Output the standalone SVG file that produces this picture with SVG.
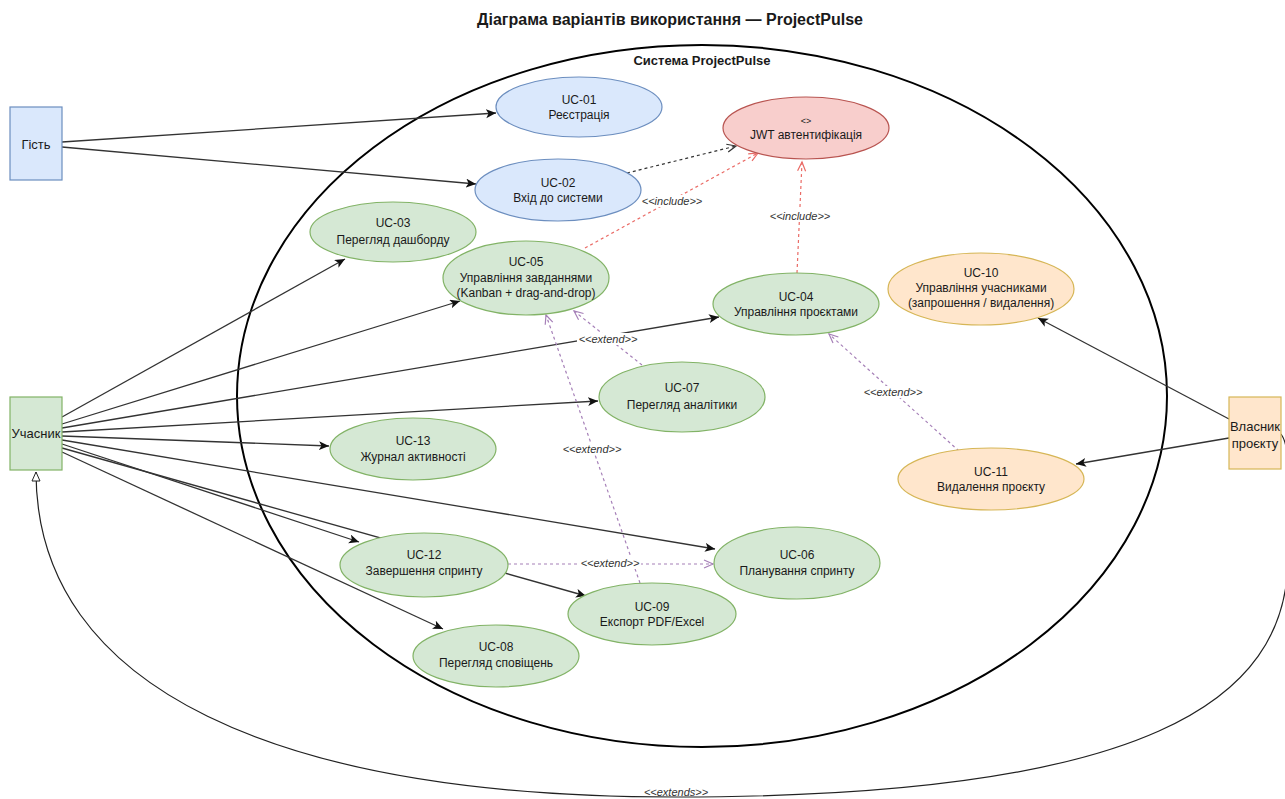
<svg xmlns="http://www.w3.org/2000/svg" width="1285" height="799" viewBox="0 0 1285 799">
  <style>
    text { font-family: "Liberation Sans", Arial, sans-serif; fill: #1a1a1a; text-anchor: middle; }
    .title { font-size: 16px; font-weight: bold; }
    .sys { font-size: 13px; font-weight: bold; }
    .lbl { font-size: 12px; }
    .actor { font-size: 13px; }
    .small { font-size: 9px; }
    .edge-lbl { font-size: 11px; font-style: italic; fill: #333; }
    .lbl-bg { fill: #ffffff; }
    .assoc { fill: none; stroke: #333; stroke-width: 1.3; marker-end: url(#arrow); }
    .inc-black { fill: none; stroke: #333; stroke-width: 1.2; stroke-dasharray: 3 3; marker-end: url(#open-black); }
    .inc-red { fill: none; stroke: #ea6b66; stroke-width: 1.2; stroke-dasharray: 3 3; marker-end: url(#open-red); }
    .ext { fill: none; stroke: #a680b8; stroke-width: 1.2; stroke-dasharray: 3 3; marker-end: url(#open-purple); }
    .gen { fill: none; stroke: #222; stroke-width: 1.2; marker-end: url(#hollow); }
    .uc-blue { fill: #dae8fc; stroke: #6c8ebf; stroke-width: 1.2; }
    .uc-green { fill: #d5e8d4; stroke: #82b366; stroke-width: 1.2; }
    .uc-orange { fill: #ffe6cc; stroke: #d6b656; stroke-width: 1.2; }
    .uc-red { fill: #f8cecc; stroke: #b85450; stroke-width: 1.2; }
  </style>
  <defs>
    <marker id="arrow" markerUnits="userSpaceOnUse" markerWidth="12" markerHeight="10" refX="10" refY="4.5" orient="auto">
      <path d="M0,0 L10,4.5 L0,9 L2.5,4.5 z" fill="#111"/>
    </marker>
    <marker id="open-black" markerUnits="userSpaceOnUse" markerWidth="12" markerHeight="12" refX="10" refY="5" orient="auto">
      <path d="M1,1 L10,5 L1,9" fill="none" stroke="#333" stroke-width="1.2"/>
    </marker>
    <marker id="open-red" markerUnits="userSpaceOnUse" markerWidth="12" markerHeight="12" refX="10" refY="5" orient="auto">
      <path d="M1,1 L10,5 L1,9" fill="none" stroke="#ea6b66" stroke-width="1.2"/>
    </marker>
    <marker id="open-purple" markerUnits="userSpaceOnUse" markerWidth="12" markerHeight="12" refX="10" refY="5" orient="auto">
      <path d="M1,1 L10,5 L1,9" fill="none" stroke="#a680b8" stroke-width="1.2"/>
    </marker>
    <marker id="hollow" markerUnits="userSpaceOnUse" markerWidth="12" markerHeight="12" refX="10" refY="5" orient="auto">
      <path d="M1,1 L10,5 L1,9 z" fill="#fff" stroke="#222" stroke-width="1"/>
    </marker>
  </defs>

  <rect width="1285" height="799" fill="#ffffff"/>

  <text class="title" x="670" y="25">Діаграма варіантів використання — ProjectPulse</text>

  <!-- system boundary -->
  <g id="system">
    <ellipse cx="702" cy="396" rx="465" ry="351" fill="none" stroke="#000" stroke-width="2"/>
    <text class="sys" x="702" y="65">Система ProjectPulse</text>
  </g>

  <!-- connectors -->
  <g id="connectors">
    <line class="assoc" x1="62" y1="142" x2="496" y2="113"/>
    <line class="assoc" x1="62" y1="147" x2="476" y2="184"/>

    <line class="assoc" x1="62" y1="417" x2="345" y2="259"/>
    <line class="assoc" x1="62" y1="424" x2="460" y2="301"/>
    <line class="assoc" x1="62" y1="428" x2="719" y2="317"/>
    <line class="assoc" x1="62" y1="432" x2="598" y2="401"/>
    <line class="assoc" x1="62" y1="436" x2="329" y2="446"/>
    <line class="assoc" x1="62" y1="440" x2="715" y2="549"/>
    <line class="assoc" x1="62" y1="444" x2="359" y2="542"/>
    <line class="assoc" x1="62" y1="448" x2="586" y2="596"/>
    <line class="assoc" x1="62" y1="452" x2="443" y2="629"/>

    <line class="assoc" x1="1229" y1="419" x2="1038" y2="318"/>
    <line class="assoc" x1="1229" y1="438" x2="1076" y2="464"/>

    <line class="inc-black" x1="627" y1="173" x2="736" y2="146"/>
    <line class="inc-red" x1="585" y1="248" x2="758" y2="153"/>
    <line class="inc-red" x1="797" y1="273" x2="802" y2="162"/>

    <line class="ext" x1="642" y1="365" x2="574" y2="311"/>
    <line class="ext" x1="640" y1="583" x2="546" y2="315"/>
    <line class="ext" x1="508" y1="564" x2="713" y2="564"/>
    <line class="ext" x1="959" y1="451" x2="829" y2="334"/>

    <path class="gen" d="M1281,434 C1290,446 1289,470 1288,560 C1286,700 1150,797 676,797 C280,797 36,690 36,472"/>

    <!-- connector labels -->
    <rect class="lbl-bg" x="640" y="195" width="64" height="12"/>
    <text class="edge-lbl" x="672" y="205">&lt;&lt;include&gt;&gt;</text>
    <rect class="lbl-bg" x="768" y="210" width="64" height="12"/>
    <text class="edge-lbl" x="800" y="220">&lt;&lt;include&gt;&gt;</text>
    <rect class="lbl-bg" x="577" y="333" width="62" height="12"/>
    <text class="edge-lbl" x="608" y="343">&lt;&lt;extend&gt;&gt;</text>
    <rect class="lbl-bg" x="561" y="443" width="62" height="12"/>
    <text class="edge-lbl" x="592" y="453">&lt;&lt;extend&gt;&gt;</text>
    <rect class="lbl-bg" x="579" y="557" width="62" height="12"/>
    <text class="edge-lbl" x="610" y="567">&lt;&lt;extend&gt;&gt;</text>
    <rect class="lbl-bg" x="862" y="386" width="62" height="12"/>
    <text class="edge-lbl" x="893" y="396">&lt;&lt;extend&gt;&gt;</text>
    <text class="edge-lbl" x="676" y="796">&lt;&lt;extends&gt;&gt;</text>
  </g>

  <!-- actors -->
  <g id="actor-guest">
    <rect x="10" y="107" width="52" height="73" fill="#dae8fc" stroke="#6c8ebf" stroke-width="1.2"/>
    <text class="actor" x="36" y="149">Гість</text>
  </g>
  <g id="actor-member">
    <rect x="10" y="397" width="52" height="73" fill="#d5e8d4" stroke="#82b366" stroke-width="1.2"/>
    <text class="actor" x="36" y="438">Учасник</text>
  </g>
  <g id="actor-owner">
    <rect x="1229" y="397" width="52" height="72" fill="#ffe6cc" stroke="#d6b656" stroke-width="1.2"/>
    <text class="actor" x="1255" y="431">Власник</text>
    <text class="actor" x="1255" y="448">проєкту</text>
  </g>

  <!-- use cases -->
  <g id="uc-01">
    <ellipse class="uc-blue" cx="579" cy="107" rx="83" ry="30"/>
    <text class="lbl" x="579" y="104">UC-01</text>
    <text class="lbl" x="579" y="119">Реєстрація</text>
  </g>
  <g id="uc-02">
    <ellipse class="uc-blue" cx="558" cy="190" rx="83" ry="31"/>
    <text class="lbl" x="558" y="187">UC-02</text>
    <text class="lbl" x="558" y="202">Вхід до системи</text>
  </g>
  <g id="uc-jwt">
    <ellipse class="uc-red" cx="806" cy="128" rx="83" ry="31"/>
    <text class="small" x="806" y="124">&lt;&gt;</text>
    <text class="lbl" x="806" y="139">JWT автентифікація</text>
  </g>
  <g id="uc-03">
    <ellipse class="uc-green" cx="393" cy="232" rx="83" ry="30"/>
    <text class="lbl" x="393" y="227">UC-03</text>
    <text class="lbl" x="393" y="244">Перегляд дашборду</text>
  </g>
  <g id="uc-05">
    <ellipse class="uc-green" cx="526" cy="278" rx="83" ry="37"/>
    <text class="lbl" x="526" y="266">UC-05</text>
    <text class="lbl" x="526" y="282">Управління завданнями</text>
    <text class="lbl" x="526" y="297">(Kanban + drag-and-drop)</text>
  </g>
  <g id="uc-04">
    <ellipse class="uc-green" cx="796" cy="304" rx="83" ry="31"/>
    <text class="lbl" x="796" y="301">UC-04</text>
    <text class="lbl" x="796" y="316">Управління проєктами</text>
  </g>
  <g id="uc-07">
    <ellipse class="uc-green" cx="682" cy="397" rx="83" ry="35"/>
    <text class="lbl" x="682" y="392">UC-07</text>
    <text class="lbl" x="682" y="409">Перегляд аналітики</text>
  </g>
  <g id="uc-10">
    <ellipse class="uc-orange" cx="981" cy="289" rx="93" ry="36"/>
    <text class="lbl" x="981" y="277">UC-10</text>
    <text class="lbl" x="981" y="292">Управління учасниками</text>
    <text class="lbl" x="981" y="307">(запрошення / видалення)</text>
  </g>
  <g id="uc-11">
    <ellipse class="uc-orange" cx="991" cy="479" rx="93" ry="31"/>
    <text class="lbl" x="991" y="476">UC-11</text>
    <text class="lbl" x="991" y="491">Видалення проєкту</text>
  </g>
  <g id="uc-13">
    <ellipse class="uc-green" cx="413" cy="449" rx="83" ry="31"/>
    <text class="lbl" x="413" y="445">UC-13</text>
    <text class="lbl" x="413" y="461">Журнал активності</text>
  </g>
  <g id="uc-12">
    <ellipse class="uc-green" cx="424" cy="565" rx="84" ry="32"/>
    <text class="lbl" x="424" y="559">UC-12</text>
    <text class="lbl" x="424" y="575">Завершення спринту</text>
  </g>
  <g id="uc-06">
    <ellipse class="uc-green" cx="797" cy="563" rx="83" ry="36"/>
    <text class="lbl" x="797" y="559">UC-06</text>
    <text class="lbl" x="797" y="575">Планування спринту</text>
  </g>
  <g id="uc-09">
    <ellipse class="uc-green" cx="652" cy="614" rx="84" ry="31"/>
    <text class="lbl" x="652" y="611">UC-09</text>
    <text class="lbl" x="652" y="626">Експорт PDF/Excel</text>
  </g>
  <g id="uc-08">
    <ellipse class="uc-green" cx="496" cy="656" rx="83" ry="31"/>
    <text class="lbl" x="496" y="651">UC-08</text>
    <text class="lbl" x="496" y="667">Перегляд сповіщень</text>
  </g>
</svg>
